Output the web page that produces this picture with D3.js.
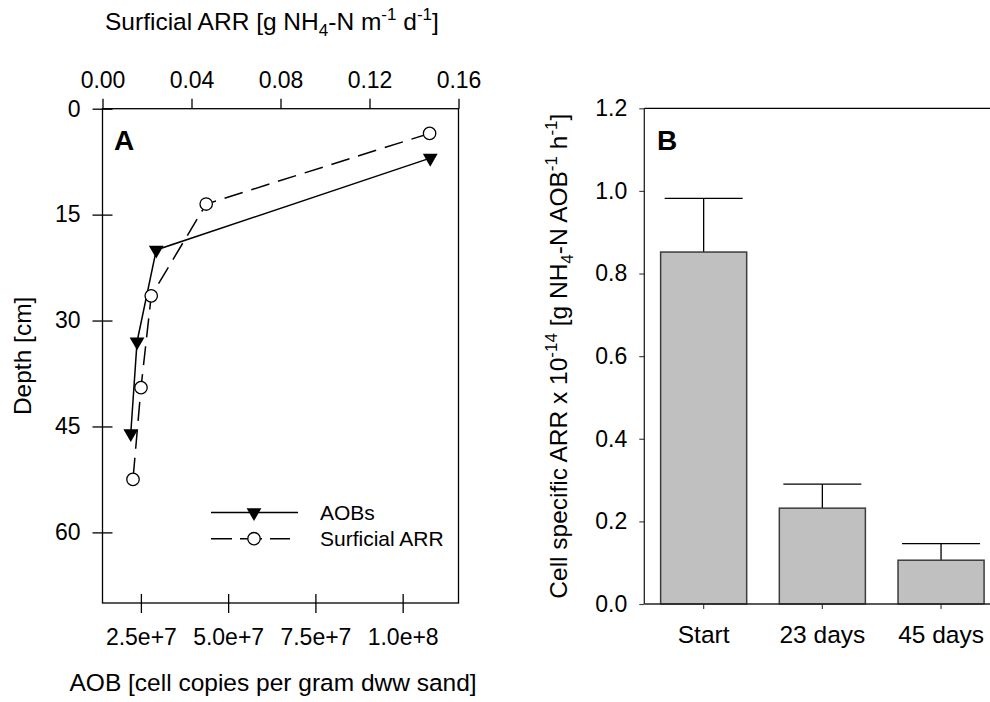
<!DOCTYPE html>
<html>
<head>
<meta charset="utf-8">
<script src="https://cdn.jsdelivr.net/npm/d3@7"></script>
<style>
  body { margin: 0; background: #fff; }
  svg { font-family: "Liberation Sans", Arial, sans-serif; }
  .domain { display: none; }
</style>
</head>
<body>
<div class="chart"></div>
<script>
// panel A: depth profiles
const aobDepth = [7, 20, 33, 46]
const aobCells = [1.079e8, 2.94e7, 2.39e7, 2.21e7]
const arrDepth = [3.5, 13.5, 26.5, 39.5, 52.5]
const arrRate = [0.147, 0.0466, 0.0219, 0.0173, 0.0137]
const depthTicks = [0, 15, 30, 45, 60]
const cellTicks = [2.5e7, 5.0e7, 7.5e7, 1.0e8]
const cellTickLabels = ['2.5e+7', '5.0e+7', '7.5e+7', '1.0e+8']
const rateTicks = [0, 0.04, 0.08, 0.12, 0.16]

// panel B: cell specific rates
const periods = ['Start', '23 days', '45 days']
const cellRate = [0.852, 0.232, 0.106]
const cellRateErr = [0.13, 0.058, 0.04]
const rateBTicks = [0, 0.2, 0.4, 0.6, 0.8, 1.0, 1.2]

const W = 990, H = 702
const svg = d3.select('.chart').append('svg')
  .attr('width', W).attr('height', H)

// ---------- panel A ----------
const a = { left: 102.5, right: 458.5, top: 108.7, bottom: 603 }

const yDepth = d3.scaleLinear().domain([0, 70]).range([a.top, a.bottom])
const xCells = d3.scaleLinear().domain([1.4e7, 1.16e8]).range([a.left, a.right])
const xRate = d3.scaleLinear().domain([0, 0.16]).range([a.left, a.right])

const gA = svg.append('g')

gA.append('rect')
  .attr('x', a.left).attr('y', a.top)
  .attr('width', a.right - a.left).attr('height', a.bottom - a.top)
  .attr('fill', 'none').attr('stroke', '#000').attr('stroke-width', 1.3)

// left axis, ticks crossing the frame
const yAxisA = gA.append('g')
  .attr('transform', `translate(${a.left},0)`)
  .call(d3.axisLeft(yDepth).tickValues(depthTicks).tickSize(10).tickPadding(12))
yAxisA.selectAll('.tick line').attr('x2', 10).attr('x1', -10)

const xAxisA = gA.append('g')
  .attr('transform', `translate(0,${a.bottom})`)
  .call(d3.axisBottom(xCells).tickValues(cellTicks)
    .tickFormat((d, i) => cellTickLabels[i]).tickSize(10).tickPadding(16))
xAxisA.selectAll('.tick line').attr('y1', -9).attr('y2', 10)

const topAxisA = gA.append('g')
  .attr('transform', `translate(0,${a.top})`)
  .call(d3.axisTop(xRate).tickValues(rateTicks)
    .tickFormat(d3.format('.2f')).tickSize(10).tickPadding(11))

gA.selectAll('.tick text').attr('font-size', 23).attr('fill', '#000')
  .attr('font-family', '"Liberation Sans", Arial, sans-serif')
gA.selectAll('.tick line').attr('stroke', '#000').attr('stroke-width', 1.3)

// series lines
const lineAob = d3.line()
  .x((d, i) => xCells(aobCells[i]))
  .y(d => yDepth(d))
const lineArr = d3.line()
  .x((d, i) => xRate(arrRate[i]))
  .y(d => yDepth(d))

gA.append('path').datum(aobDepth)
  .attr('d', lineAob).attr('fill', 'none')
  .attr('stroke', '#000').attr('stroke-width', 1.5)
gA.append('path').datum(arrDepth)
  .attr('d', lineArr).attr('fill', 'none')
  .attr('stroke', '#000').attr('stroke-width', 1.5)
  .attr('stroke-dasharray', '19,9')

const tri = d3.symbol().type(d3.symbolTriangle).size(95)

gA.selectAll('.aob').data(aobDepth).join('path')
  .attr('class', 'aob')
  .attr('d', tri)
  .attr('transform', (d, i) => `translate(${xCells(aobCells[i])},${yDepth(d)}) rotate(180)`)
  .attr('fill', '#000')

gA.selectAll('.arr').data(arrDepth).join('circle')
  .attr('class', 'arr')
  .attr('cx', (d, i) => xRate(arrRate[i]))
  .attr('cy', d => yDepth(d))
  .attr('r', 6.2)
  .attr('fill', '#fff').attr('stroke', '#000').attr('stroke-width', 1.3)

// legend
const leg = gA.append('g')
leg.append('line').attr('x1', 211).attr('x2', 298).attr('y1', 512.5).attr('y2', 512.5)
  .attr('stroke', '#000').attr('stroke-width', 1.5)
leg.append('path').attr('d', tri)
  .attr('transform', 'translate(254,512.5) rotate(180)').attr('fill', '#000')
leg.append('line').attr('x1', 211).attr('x2', 290).attr('y1', 538.7).attr('y2', 538.7)
  .attr('stroke', '#000').attr('stroke-width', 1.5).attr('stroke-dasharray', '21,8,22,8,20')
leg.append('circle').attr('cx', 254).attr('cy', 538.7).attr('r', 6.2)
  .attr('fill', '#fff').attr('stroke', '#000').attr('stroke-width', 1.3)
leg.append('text').attr('x', 320).attr('y', 520).attr('font-size', 21).text('AOBs')
leg.append('text').attr('x', 320).attr('y', 546).attr('font-size', 21).text('Surficial ARR')

gA.append('text').attr('x', 114).attr('y', 149.5)
  .attr('font-size', 28).attr('font-weight', 'bold').text('A')

// axis titles
svg.append('text')
  .attr('transform', `translate(31,${(a.top + a.bottom) / 2}) rotate(-90)`)
  .attr('text-anchor', 'middle').attr('font-size', 24.5).text('Depth [cm]')

svg.append('text').attr('x', 69.5).attr('y', 691)
  .attr('font-size', 24.5).text('AOB [cell copies per gram dww sand]')

const topTitle = svg.append('text').attr('x', 105).attr('y', 30).attr('font-size', 24.5)
topTitle.append('tspan').text('Surficial ARR [g NH')
topTitle.append('tspan').attr('font-size', 17).attr('dy', 6).text('4')
topTitle.append('tspan').attr('dy', -6).text('-N m')
topTitle.append('tspan').attr('font-size', 17).attr('dy', -10).text('-1')
topTitle.append('tspan').attr('dy', 10).text(' d')
topTitle.append('tspan').attr('font-size', 17).attr('dy', -10).text('-1')
topTitle.append('tspan').attr('dy', 10).text(']')

// ---------- panel B ----------
const b = { left: 644.3, right: 1000.4, top: 108.3, bottom: 604 }

const xBand = d3.scaleBand().domain(periods)
  .range([b.left, b.right]).paddingInner(0.275).paddingOuter(0.1375)
const yRate = d3.scaleLinear().domain([0, 1.2]).range([b.bottom, b.top])

const gB = svg.append('g')

gB.append('line').attr('x1', b.left).attr('x2', b.right)
  .attr('y1', b.top).attr('y2', b.top).attr('stroke', '#000').attr('stroke-width', 1.3)

const bars = gB.selectAll('.bar').data(periods).join('g').attr('class', 'bar')

// error bars (upper only)
const capW = 78
bars.append('line')
  .attr('x1', d => xBand(d) + xBand.bandwidth() / 2)
  .attr('x2', d => xBand(d) + xBand.bandwidth() / 2)
  .attr('y1', (d, i) => yRate(cellRate[i]))
  .attr('y2', (d, i) => yRate(cellRate[i] + cellRateErr[i]))
  .attr('stroke', '#000').attr('stroke-width', 1.3)
bars.append('line')
  .attr('x1', d => xBand(d) + xBand.bandwidth() / 2 - capW / 2)
  .attr('x2', d => xBand(d) + xBand.bandwidth() / 2 + capW / 2)
  .attr('y1', (d, i) => yRate(cellRate[i] + cellRateErr[i]))
  .attr('y2', (d, i) => yRate(cellRate[i] + cellRateErr[i]))
  .attr('stroke', '#000').attr('stroke-width', 1.3)

bars.append('rect')
  .attr('x', d => xBand(d))
  .attr('width', xBand.bandwidth())
  .attr('y', (d, i) => yRate(cellRate[i]))
  .attr('height', (d, i) => b.bottom - yRate(cellRate[i]))
  .attr('fill', '#c0c0c0').attr('stroke', '#3c3c3c').attr('stroke-width', 1.5)

const yAxisB = gB.append('g')
  .attr('transform', `translate(${b.left},0)`)
  .call(d3.axisLeft(yRate).tickValues(rateBTicks)
    .tickFormat(d3.format('.1f')).tickSize(5).tickPadding(12))
gB.append('line').attr('x1', b.left).attr('x2', b.left)
  .attr('y1', b.top).attr('y2', b.bottom).attr('stroke', '#222').attr('stroke-width', 1.3)

const xAxisB = gB.append('g')
  .attr('transform', `translate(0,${b.bottom})`)
  .call(d3.axisBottom(xBand).tickSize(5).tickPadding(17))
gB.append('line').attr('x1', b.left).attr('x2', b.right)
  .attr('y1', b.bottom).attr('y2', b.bottom).attr('stroke', '#222').attr('stroke-width', 1.5)

yAxisB.selectAll('.tick text').attr('font-size', 23)
xAxisB.selectAll('.tick text').attr('font-size', 24.5)
gB.selectAll('.tick text').attr('fill', '#000')
  .attr('font-family', '"Liberation Sans", Arial, sans-serif')
gB.selectAll('.tick line').attr('stroke', '#444').attr('stroke-width', 1.2)

gB.append('text').attr('x', 657).attr('y', 149.5)
  .attr('font-size', 28).attr('font-weight', 'bold').text('B')

const yTitleB = svg.append('text')
  .attr('transform', `translate(567,${(b.top + b.bottom) / 2}) rotate(-90)`)
  .attr('text-anchor', 'middle').attr('font-size', 24.5)
yTitleB.append('tspan').text('Cell specific ARR x 10')
yTitleB.append('tspan').attr('font-size', 17).attr('dy', -10).text('-14')
yTitleB.append('tspan').attr('dy', 10).text(' [g NH')
yTitleB.append('tspan').attr('font-size', 17).attr('dy', 6).text('4')
yTitleB.append('tspan').attr('dy', -6).text('-N AOB')
yTitleB.append('tspan').attr('font-size', 17).attr('dy', -10).text('-1')
yTitleB.append('tspan').attr('dy', 10).text(' h')
yTitleB.append('tspan').attr('font-size', 17).attr('dy', -10).text('-1')
yTitleB.append('tspan').attr('dy', 10).text(']')
</script>
</body>
</html>
